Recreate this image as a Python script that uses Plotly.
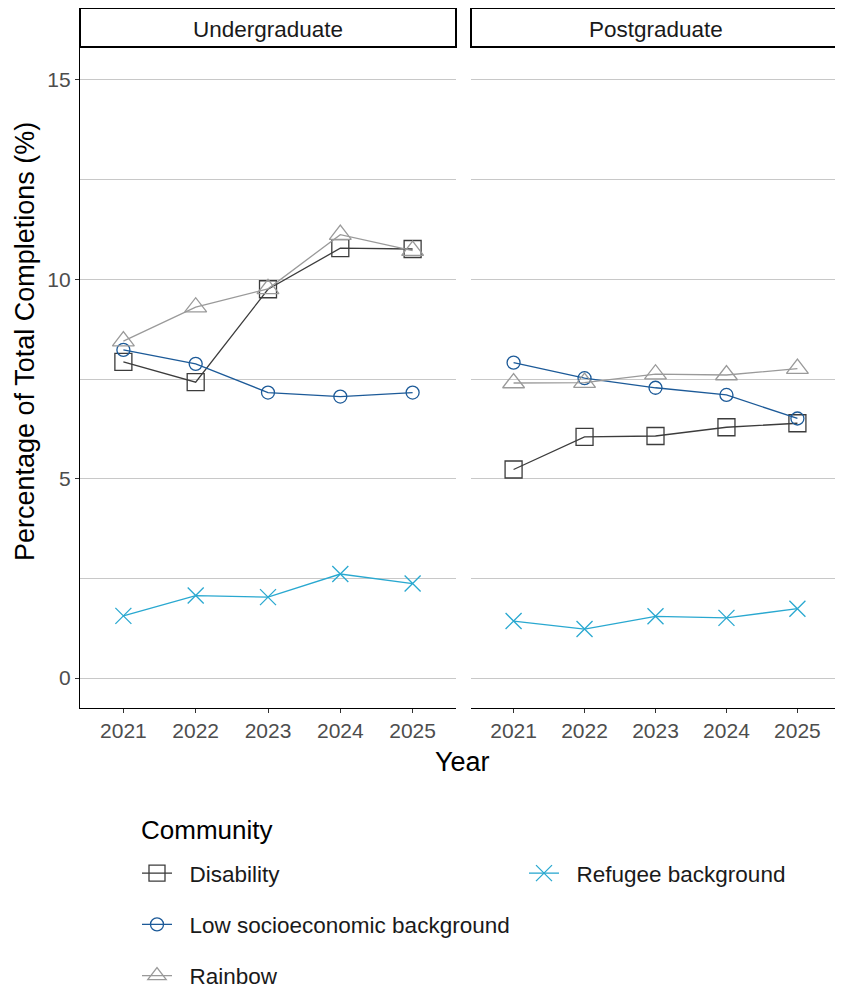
import plotly.graph_objects as go
from plotly.subplots import make_subplots

years = [2021, 2022, 2023, 2024, 2025]
panels = ["Undergraduate", "Postgraduate"]
communities = ["Disability", "Low socioeconomic background", "Rainbow", "Refugee background"]

ug_disability = [7.93, 7.42, 9.75, 10.78, 10.76]
ug_low_ses = [8.23, 7.88, 7.16, 7.06, 7.16]
ug_rainbow = [8.45, 9.3, 9.76, 11.12, 10.72]
ug_refugee = [1.56, 2.07, 2.03, 2.61, 2.37]

pg_disability = [5.23, 6.05, 6.07, 6.29, 6.39]
pg_low_ses = [7.91, 7.52, 7.28, 7.10, 6.51]
pg_rainbow = [7.40, 7.41, 7.62, 7.60, 7.76]
pg_refugee = [1.43, 1.23, 1.55, 1.51, 1.74]

series = {
    "Undergraduate": [ug_disability, ug_low_ses, ug_rainbow, ug_refugee],
    "Postgraduate": [pg_disability, pg_low_ses, pg_rainbow, pg_refugee],
}

colors = ["#3c3c3c", "#1c5a98", "#9a9a9a", "#29a8d0"]
symbols = ["square-open", "circle-open", "triangle-up-open", "x-thin-open"]
sizes = [17, 13, 19, 16]
legends = ["legend", "legend", "legend", "legend2"]

FONT = "Liberation Sans, Arial, sans-serif"
NB = "\u00a0\u00a0"

# page offset (body margin) compensation
OFF = 8
W, H = 843 - OFF, 1001 - OFF
L, R, T = 80 - OFF, W - (840 - OFF), 48 - OFF
B = H - (708 - OFF)
pw = W - L - R
ph = H - T - B


def px2x(p):
    return (p - OFF - L) / pw


def px2y(p):
    return (H - B - (p - OFF)) / ph


fig = make_subplots(rows=1, cols=2, shared_yaxes=True, horizontal_spacing=0.02)

for ci, panel in enumerate(panels):
    for k, name in enumerate(communities):
        fig.add_trace(
            go.Scatter(
                x=years,
                y=series[panel][k],
                mode="lines+markers",
                name=NB + name,
                legendgroup=name,
                showlegend=(ci == 0),
                legend=legends[k],
                line=dict(color=colors[k], width=1.3),
                marker=dict(symbol=symbols[k], size=sizes[k], color=colors[k],
                            line=dict(color=colors[k], width=1.3)),
            ),
            row=1, col=ci + 1,
        )

left_dom = [0, px2x(456)]
right_dom = [px2x(471), 1]

xcommon = dict(
    range=[2020.4, 2025.6], tickvals=years, ticks="outside", ticklen=4,
    tickcolor="#333333", showline=True, linecolor="black", linewidth=1.3,
    showgrid=False, zeroline=False,
    tickfont=dict(family=FONT, size=21, color="#4d4d4d"),
)

fig.update_layout(
    width=W, height=H,
    margin=dict(l=L, r=R, t=T, b=B),
    plot_bgcolor="white", paper_bgcolor="white",
    xaxis=dict(domain=left_dom, **xcommon),
    xaxis2=dict(domain=right_dom, **xcommon),
    yaxis=dict(
        range=[-0.75, 15.8], tickvals=[0, 5, 10, 15], ticks="outside", ticklen=4,
        tickcolor="#333333", showline=True, linecolor="black", linewidth=1.3,
        showgrid=True, gridcolor="#c8c8c8", gridwidth=1.2, zeroline=False,
        minor=dict(tickvals=[2.5, 7.5, 12.5], showgrid=True, gridcolor="#c8c8c8",
                   gridwidth=1.2, ticks=""),
        tickfont=dict(family=FONT, size=21, color="#4d4d4d"),
    ),
    yaxis2=dict(
        range=[-0.75, 15.8], tickvals=[0, 5, 10, 15], showticklabels=False, ticks="",
        showline=False, showgrid=True, gridcolor="#c8c8c8", gridwidth=1.2, zeroline=False,
        minor=dict(tickvals=[2.5, 7.5, 12.5], showgrid=True, gridcolor="#c8c8c8",
                   gridwidth=1.2, ticks=""),
    ),
    legend=dict(
        x=px2x(137), y=px2y(852), xanchor="left", yanchor="top",
        orientation="v", tracegroupgap=19,
        font=dict(family=FONT, size=22.5, color="#1a1a1a"),
        bgcolor="rgba(0,0,0,0)",
    ),
    legend2=dict(
        x=px2x(524), y=px2y(852), xanchor="left", yanchor="top",
        orientation="v",
        font=dict(family=FONT, size=22.5, color="#1a1a1a"),
        bgcolor="rgba(0,0,0,0)",
    ),
    showlegend=True,
)

# Facet strips
for dom, label in zip([left_dom, right_dom], panels):
    fig.add_shape(type="rect", xref="paper", yref="paper",
                  x0=dom[0], x1=dom[1], y0=px2y(47), y1=px2y(8),
                  line=dict(color="black", width=2), fillcolor="white", layer="above")
    fig.add_annotation(xref="paper", yref="paper", x=(dom[0] + dom[1]) / 2, y=px2y(30),
                       text=label, showarrow=False, xanchor="center", yanchor="middle",
                       font=dict(family=FONT, size=22.5, color="#1a1a1a"))

fig.add_annotation(xref="paper", yref="paper", x=px2x(463), y=px2y(762),
                   text="Year", showarrow=False, xanchor="center", yanchor="middle",
                   font=dict(family=FONT, size=27, color="black"))

fig.add_annotation(xref="paper", yref="paper", x=px2x(25), y=px2y(342),
                   text="Percentage of Total Completions (%)", textangle=-90,
                   showarrow=False, xanchor="center", yanchor="middle",
                   font=dict(family=FONT, size=27, color="black"))

fig.add_annotation(xref="paper", yref="paper", x=px2x(139), y=px2y(830),
                   text="Community", showarrow=False, xanchor="left", yanchor="middle",
                   font=dict(family=FONT, size=26, color="black"))

fig.write_html("out.html")
